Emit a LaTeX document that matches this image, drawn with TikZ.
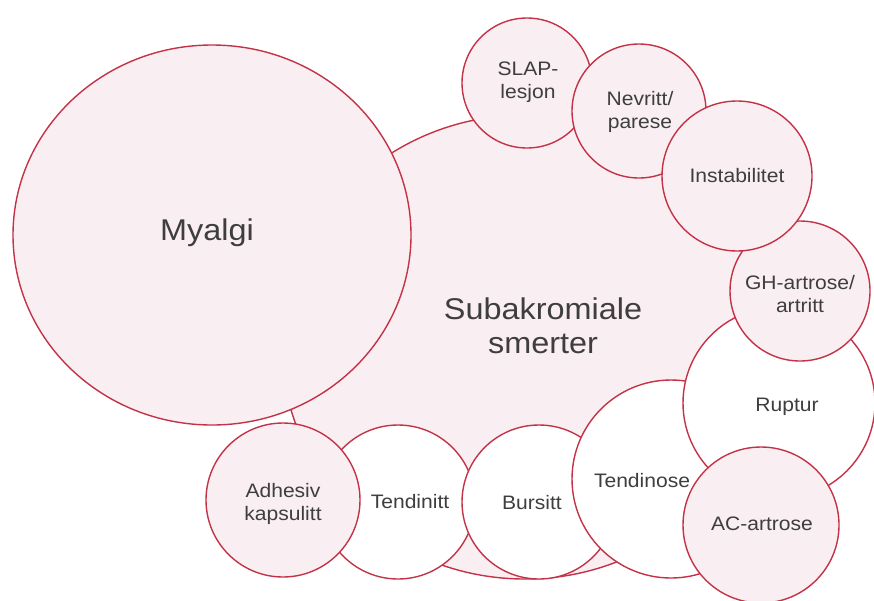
\documentclass[tikz,border=0pt]{standalone}
\usepackage{fontspec}
\setmainfont{Liberation Sans}[FakeStretch=1.08]
\usetikzlibrary{shapes.geometric}
\definecolor{ring}{RGB}{196,50,72}
\definecolor{pinkfill}{RGB}{249,238,241}
\definecolor{txtc}{RGB}{62,62,62}
\tikzset{
  bub/.style={circle, draw=ring, line width=1.4pt, inner sep=0pt, fill=pinkfill},
  wbub/.style={bub, fill=white},
  lbl/.style={align=center, text=txtc, inner sep=0pt, font=\fontsize{19.5}{23.5}\selectfont},
  biglbl/.style={align=center, text=txtc, inner sep=0pt, font=\fontsize{30}{34}\selectfont}
}
\begin{document}
\begin{tikzpicture}[x=1pt, y=-1pt]
\useasboundingbox (0,0) rectangle (874,600);
% main field
\node[ellipse, draw=ring, line width=1.4pt, fill=pinkfill, inner sep=0pt,
      minimum width=486pt, minimum height=464pt] (sub) at (525,347) {};
\node[biglbl] (subt) at (543,326) {Subakromiale\\smerter};
% Myalgi
\node[ellipse, draw=ring, line width=1.4pt, fill=pinkfill, inner sep=0pt,
      minimum width=398pt, minimum height=380pt] (mya) at (212,235) {};
\node[biglbl] (myat) at (207,233) {Myalgi};
% bottom row
\node[wbub, minimum size=154pt] (tdt) at (398,502) {};
\node[lbl] at (410,502) {Tendinitt};
\node[bub, minimum size=154pt] (adh) at (283,500) {};
\node[lbl] at (283,504) {Adhesiv\\kapsulitt};
\node[wbub, minimum size=154pt] (bur) at (539,502) {};
\node[lbl] at (532,503) {Bursitt};
\node[wbub, minimum size=198pt] (tdn) at (671,479) {};
\node[lbl] at (642,481) {Tendinose};
\node[wbub, minimum size=192pt] (rup) at (779,403) {};
\node[lbl] at (787,407) {Ruptur};
\node[bub, minimum size=156pt] (ac) at (761,525) {};
\node[lbl] at (762,524) {AC-artrose};
% right / top chain
\node[bub, minimum size=140pt] (gh) at (800,291) {};
\node[lbl] at (800,294) {GH-artrose/\\artritt};
\node[bub, minimum size=130pt] (slap) at (527,83) {};
\node[lbl] at (528,82) {SLAP-\\lesjon};
\node[bub, minimum size=134pt] (nev) at (639,111) {};
\node[lbl] at (640,112) {Nevritt/\\parese};
\node[bub, minimum size=150pt] (ins) at (737,176) {};
\node[lbl] at (737,176) {Instabilitet};
\end{tikzpicture}
\end{document}
